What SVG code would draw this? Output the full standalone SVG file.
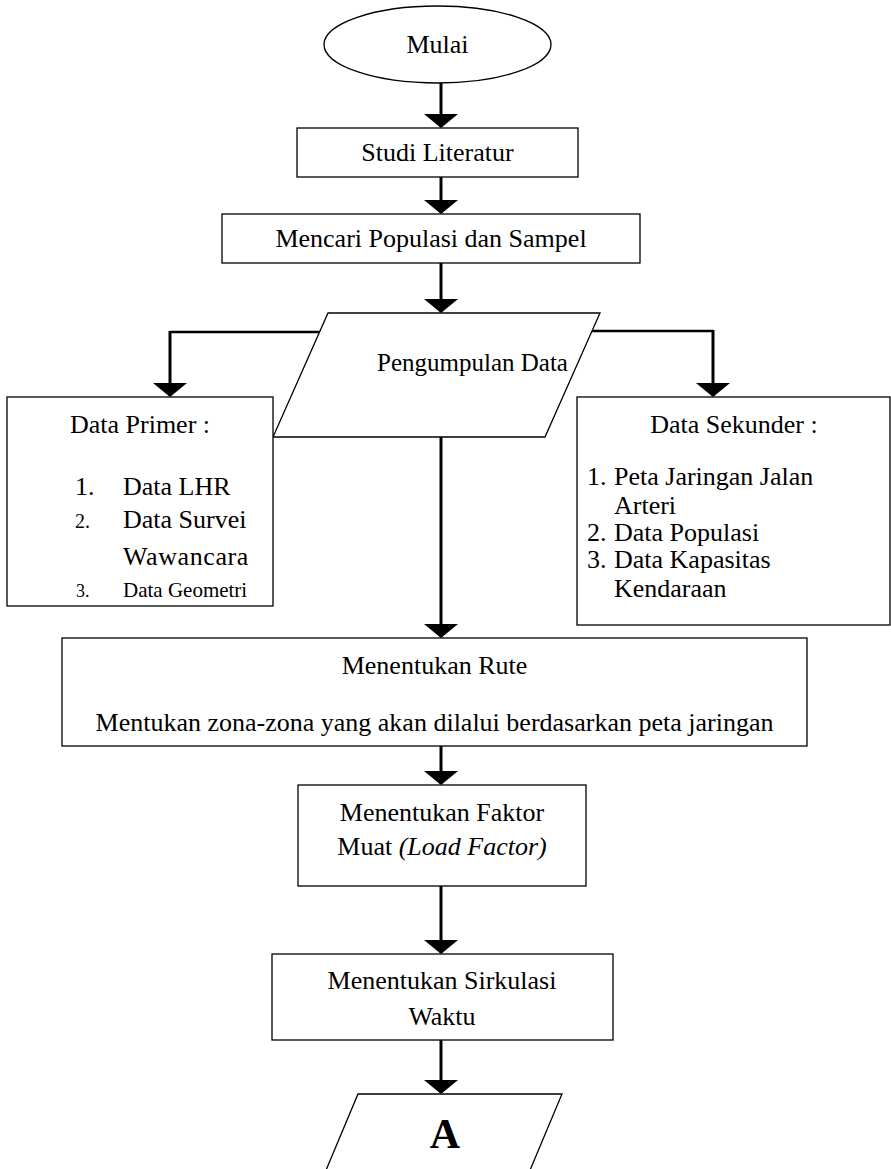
<svg xmlns="http://www.w3.org/2000/svg" width="891" height="1169" viewBox="0 0 891 1169">
  <defs>
    <marker id="ah" viewBox="0 0 14 34" refX="13" refY="17" markerWidth="14" markerHeight="34" markerUnits="userSpaceOnUse" orient="auto">
      <path d="M0,0 L14,17 L0,34 Z" fill="#000"/>
    </marker>
  </defs>
  <style>
    .box { fill: #fff; stroke: #000; stroke-width: 1.3; }
    .t { font-family: "Liberation Serif", "Times New Roman", serif; font-size: 26px; fill: #000; }
    .c { text-anchor: middle; }
    .s25 { font-size: 25px; }
    .s21 { font-size: 21px; }
    .s20 { font-size: 20px; }
    .s18 { font-size: 18px; }
    .big { font-size: 42px; font-weight: bold; }
    .v { fill: none; stroke: #000; stroke-width: 3; }
    .h { fill: none; stroke: #000; stroke-width: 2.3; }
  </style>
  <rect width="891" height="1169" fill="#fff"/>

  <g id="connectors">
    <line class="v" x1="441" y1="83" x2="441" y2="127" marker-end="url(#ah)"/>
    <line class="v" x1="441" y1="177" x2="441" y2="213" marker-end="url(#ah)"/>
    <line class="v" x1="441" y1="263" x2="441" y2="312" marker-end="url(#ah)"/>
    <polyline class="h" points="319.5,332 170,332"/>
    <line class="v" x1="170" y1="331" x2="170" y2="396" marker-end="url(#ah)"/>
    <polyline class="h" points="592,331 713,331"/>
    <line class="v" x1="713" y1="330" x2="713" y2="396" marker-end="url(#ah)"/>
    <line class="v" x1="441" y1="437" x2="441" y2="637" marker-end="url(#ah)"/>
    <line class="v" x1="441" y1="746" x2="441" y2="784" marker-end="url(#ah)"/>
    <line class="v" x1="441" y1="886" x2="441" y2="953" marker-end="url(#ah)"/>
    <line class="v" x1="441" y1="1040" x2="441" y2="1093" marker-end="url(#ah)"/>
  </g>

  <g id="mulai">
    <ellipse class="box" cx="437.5" cy="44.5" rx="113.5" ry="38.5"/>
    <text class="t c" x="437.5" y="53">Mulai</text>
  </g>

  <g id="studi">
    <rect class="box" x="297" y="128" width="281" height="49"/>
    <text class="t c" x="437.5" y="161">Studi Literatur</text>
  </g>

  <g id="mencari">
    <rect class="box" x="222" y="214" width="418" height="49"/>
    <text class="t c" x="431" y="247">Mencari Populasi dan Sampel</text>
  </g>

  <g id="pengumpulan">
    <polygon class="box" points="328,313 600,313 545,437 273,437"/>
    <text class="t s25" x="377" y="371">Pengumpulan Data</text>
  </g>

  <g id="primer">
    <rect class="box" x="7" y="397" width="266" height="209"/>
    <text class="t c" x="140" y="433">Data Primer :</text>
    <text class="t" x="75" y="495">1.</text>
    <text class="t" x="123" y="495">Data LHR</text>
    <text class="t s20" x="75" y="528">2.</text>
    <text class="t" x="123" y="528">Data Survei<tspan x="123" y="565" letter-spacing="0.6">Wawancara</tspan></text>
    <text class="t s18" x="76" y="597">3.</text>
    <text class="t s21" x="123" y="597">Data Geometri</text>
  </g>

  <g id="sekunder">
    <rect class="box" x="577" y="397" width="313" height="228"/>
    <text class="t c" x="734" y="433">Data Sekunder :</text>
    <text class="t" x="587" y="485">1.</text>
    <text class="t" x="614" y="485">Peta Jaringan Jalan<tspan x="614" y="514">Arteri</tspan></text>
    <text class="t" x="587" y="541">2.</text>
    <text class="t" x="614" y="541">Data Populasi</text>
    <text class="t" x="587" y="568">3.</text>
    <text class="t" x="614" y="568">Data Kapasitas<tspan x="614" y="597">Kendaraan</tspan></text>
  </g>

  <g id="rute">
    <rect class="box" x="62" y="638" width="745" height="108"/>
    <text class="t c" x="434.5" y="674">Menentukan Rute</text>
    <text class="t c" x="434.5" y="731">Mentukan zona-zona yang akan dilalui berdasarkan peta jaringan</text>
  </g>

  <g id="faktor">
    <rect class="box" x="298" y="785" width="288" height="101"/>
    <text class="t c" x="442" y="821">Menentukan Faktor</text>
    <text class="t c" x="442" y="855">Muat <tspan font-style="italic">(Load Factor)</tspan></text>
  </g>

  <g id="sirkulasi">
    <rect class="box" x="272" y="954" width="341" height="86"/>
    <text class="t c" x="442" y="989">Menentukan Sirkulasi</text>
    <text class="t c" x="442" y="1025">Waktu</text>
  </g>

  <g id="a">
    <polygon class="box" points="358,1094 562,1094 528,1175 324,1175"/>
    <text class="t c big" x="445" y="1148">A</text>
  </g>
</svg>
